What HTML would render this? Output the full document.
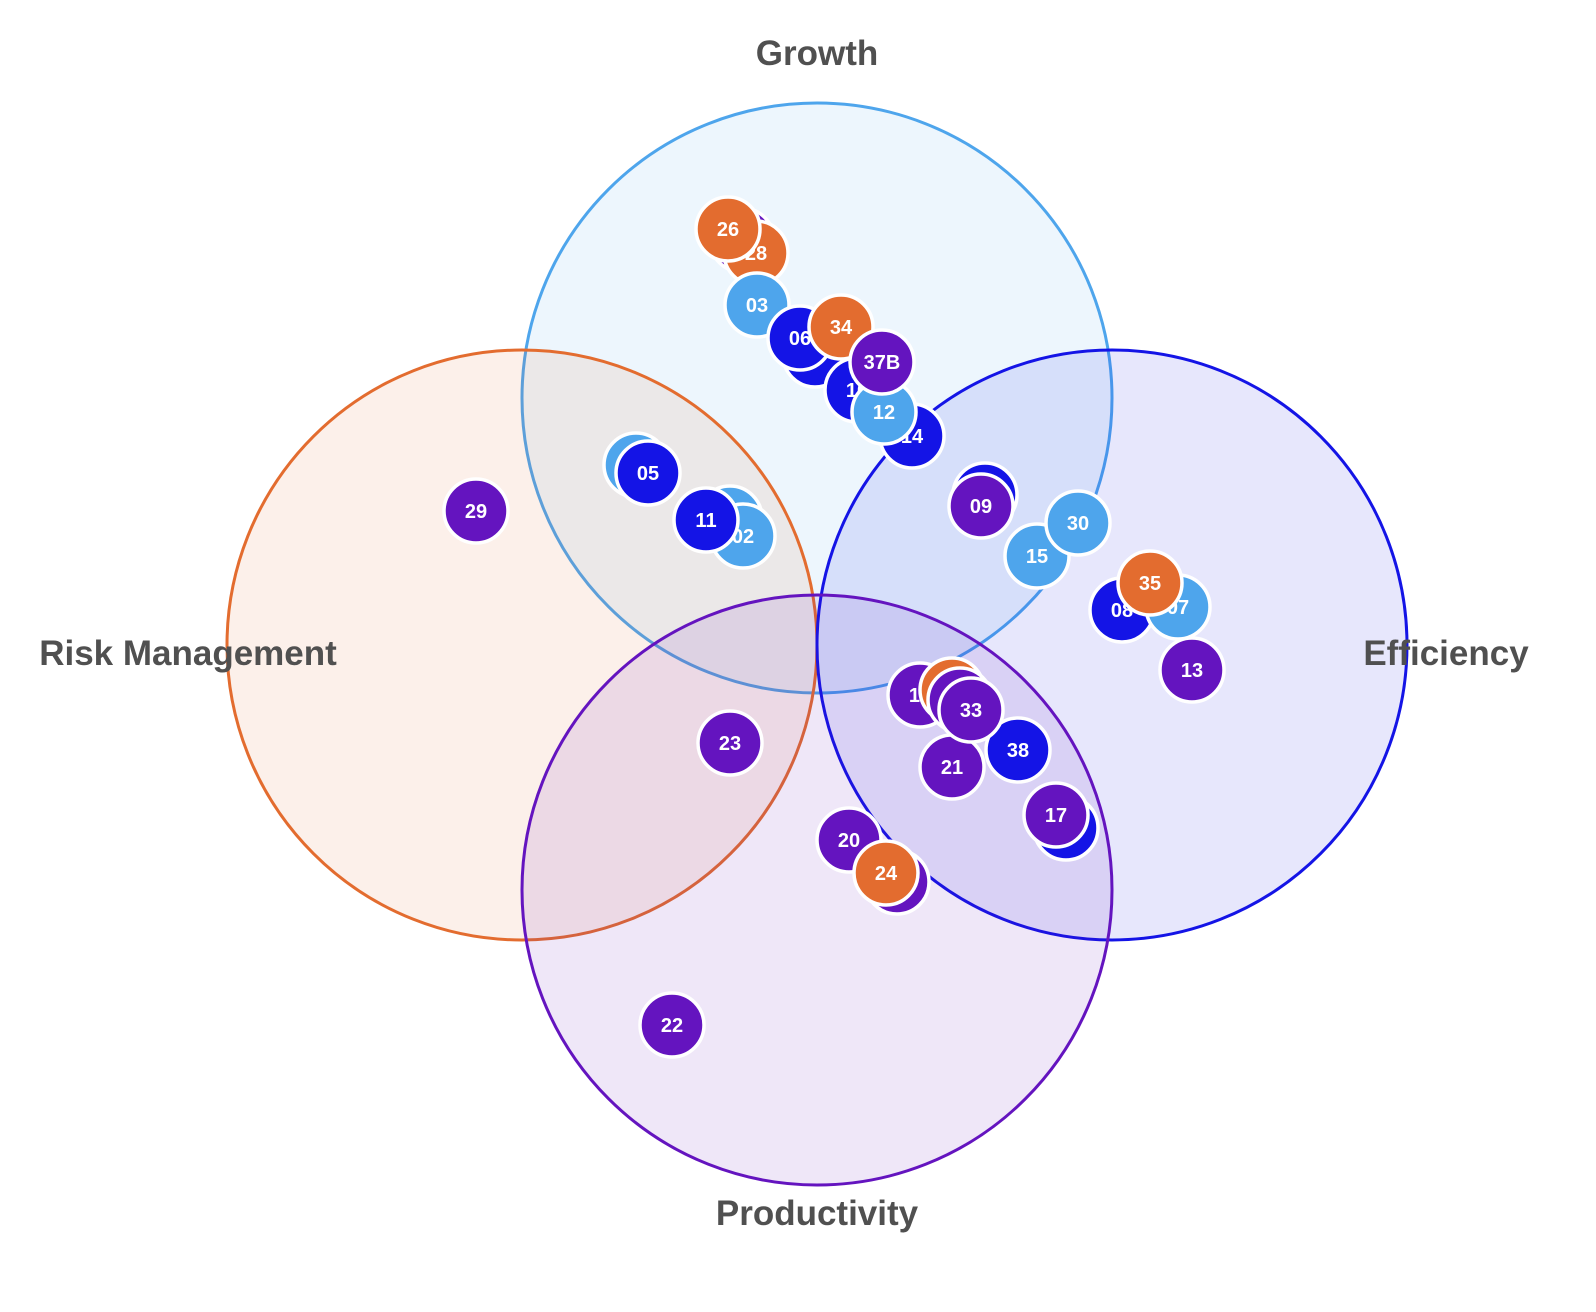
<!DOCTYPE html>
<html><head><meta charset="utf-8"><style>
html,body{margin:0;padding:0;background:#fff;}
svg{display:block;}
.l{font-family:"Liberation Sans",sans-serif;font-weight:bold;font-size:35px;fill:#505050;text-anchor:middle;}
.b text{font-family:"Liberation Sans",sans-serif;font-weight:bold;font-size:20px;fill:#fff;text-anchor:middle;dominant-baseline:central;}
.b circle{stroke:#fff;stroke-width:3.5;}
.o{fill:#E36C2F}.lb{fill:#4EA5EC}.bl{fill:#1414E6}.p{fill:#6414BF}
</style></head><body>
<svg width="1596" height="1312" viewBox="0 0 1596 1312">
<circle cx="817" cy="398" r="295" fill="#4EA5EC" fill-opacity="0.1" stroke="#4EA5EC" stroke-width="3"/>
<circle cx="522" cy="645" r="295" fill="#E36C2F" fill-opacity="0.1" stroke="#E36C2F" stroke-width="3"/>
<circle cx="1112" cy="645" r="295" fill="#1414E6" fill-opacity="0.1" stroke="#1414E6" stroke-width="3"/>
<circle cx="817" cy="890" r="295" fill="#6414BF" fill-opacity="0.1" stroke="#6414BF" stroke-width="3"/>
<text class="l" x="817" y="65">Growth</text>
<text class="l" x="188" y="665">Risk Management</text>
<text class="l" x="1446" y="665">Efficiency</text>
<text class="l" x="817" y="1225">Productivity</text>
<g class="b">
<circle class="p" cx="742" cy="240" r="32"/>
<circle class="o" cx="756" cy="253" r="32"/><text x="756" y="254">28</text>
<circle class="o" cx="728" cy="229" r="32"/><text x="728" y="230">26</text>
<circle class="lb" cx="757" cy="305" r="32"/><text x="757" y="306">03</text>
<circle class="bl" cx="815" cy="355" r="32"/>
<circle class="bl" cx="800" cy="338" r="32"/><text x="800" y="339">06</text>
<circle class="bl" cx="857" cy="390" r="32"/><text x="857" y="391">10</text>
<circle class="o" cx="841" cy="327" r="32"/><text x="841" y="328">34</text>
<circle class="bl" cx="912" cy="436" r="32"/><text x="912" y="437">14</text>
<circle class="lb" cx="884" cy="412" r="32"/><text x="884" y="413">12</text>
<circle class="p" cx="882" cy="362" r="32"/><text x="882" y="363">37B</text>
<circle class="lb" cx="636" cy="465" r="32"/>
<circle class="bl" cx="648" cy="473" r="32"/><text x="648" y="474">05</text>
<circle class="lb" cx="730" cy="518" r="32"/>
<circle class="lb" cx="743" cy="536" r="32"/><text x="743" y="537">02</text>
<circle class="bl" cx="706" cy="520" r="32"/><text x="706" y="521">11</text>
<circle class="p" cx="476" cy="511" r="32"/><text x="476" y="512">29</text>
<circle class="bl" cx="985" cy="495" r="32"/>
<circle class="p" cx="981" cy="506" r="32"/><text x="981" y="507">09</text>
<circle class="lb" cx="1037" cy="556" r="32"/><text x="1037" y="557">15</text>
<circle class="lb" cx="1078" cy="523" r="32"/><text x="1078" y="524">30</text>
<circle class="bl" cx="1122" cy="610" r="32"/><text x="1122" y="611">08</text>
<circle class="lb" cx="1178" cy="607" r="32"/><text x="1178" y="608">07</text>
<circle class="o" cx="1150" cy="583" r="32"/><text x="1150" y="584">35</text>
<circle class="p" cx="1192" cy="670" r="32"/><text x="1192" y="671">13</text>
<circle class="p" cx="952" cy="767" r="32"/><text x="952" y="768">21</text>
<circle class="bl" cx="1018" cy="750" r="32"/><text x="1018" y="751">38</text>
<circle class="p" cx="920" cy="695" r="32"/><text x="920" y="696">16</text>
<circle class="o" cx="952" cy="690" r="32"/>
<circle class="p" cx="960" cy="700" r="32"/>
<circle class="p" cx="971" cy="710" r="32"/><text x="971" y="711">33</text>
<circle class="bl" cx="1066" cy="828" r="32"/>
<circle class="p" cx="1056" cy="815" r="32"/><text x="1056" y="816">17</text>
<circle class="p" cx="730" cy="743" r="32"/><text x="730" y="744">23</text>
<circle class="p" cx="849" cy="840" r="32"/><text x="849" y="841">20</text>
<circle class="p" cx="897" cy="882" r="32"/>
<circle class="o" cx="886" cy="873" r="32"/><text x="886" y="874">24</text>
<circle class="p" cx="672" cy="1025" r="32"/><text x="672" y="1026">22</text>
</g>
</svg>
</body></html>
